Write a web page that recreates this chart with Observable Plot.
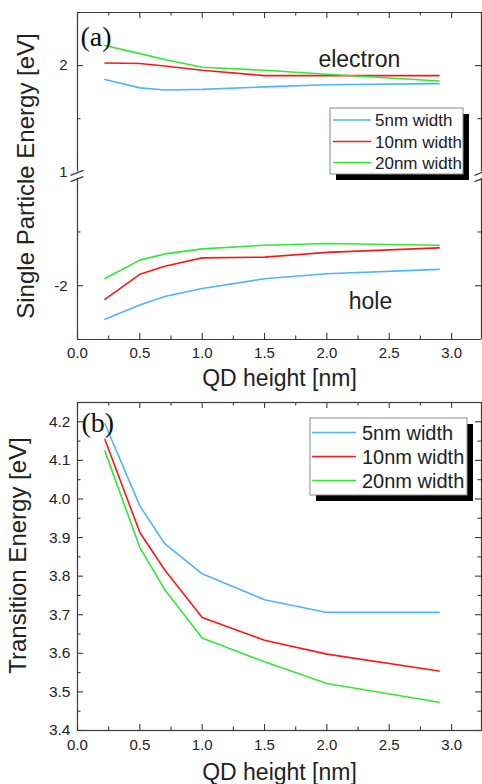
<!DOCTYPE html>
<html>
<head>
<meta charset="utf-8">
<script src="https://cdn.jsdelivr.net/npm/d3@7"></script>
<script src="https://cdn.jsdelivr.net/npm/@observablehq/plot@0.6"></script>
<style>
  html, body { margin: 0; padding: 0; background: #fff; }
  #fig { width: 482px; height: 784px; position: relative; overflow: hidden; background: #fff; }
  #fig svg { display: block; }
</style>
</head>
<body>
<div id="fig"></div>
<script>
// QD heights (nm) at which the energies were computed
const heights = [0.22, 0.5, 0.7, 1.0, 1.5, 2.0, 2.9];

// Series names and colours
const widths = ["5nm width", "10nm width", "20nm width"];
const colors = ["#4db5f8", "#f41a1a", "#36e636"];

// (a) single particle energies [eV]
const electron5  = [1.870, 1.790, 1.770, 1.776, 1.800, 1.820, 1.830];
const electron10 = [2.025, 2.020, 1.996, 1.956, 1.906, 1.906, 1.906];
const electron20 = [2.190, 2.113, 2.057, 1.984, 1.956, 1.918, 1.855];
const hole5  = [-2.311, -2.180, -2.100, -2.025, -1.935, -1.889, -1.848];
const hole10 = [-2.126, -1.894, -1.818, -1.741, -1.734, -1.690, -1.648];
const hole20 = [-1.932, -1.762, -1.704, -1.657, -1.623, -1.607, -1.623];

// (b) transition energies [eV]
const trans5  = [4.195, 3.982, 3.884, 3.806, 3.739, 3.706, 3.706];
const trans10 = [4.154, 3.913, 3.816, 3.693, 3.634, 3.598, 3.554];
const trans20 = [4.124, 3.874, 3.765, 3.640, 3.578, 3.522, 3.473];

// Axis ticks
const xTicks = [0, 0.5, 1.0, 1.5, 2.0, 2.5, 3.0];
const xMinor = [0.25, 0.75, 1.25, 1.75, 2.25, 2.75];
const yTicksA = [2, 1, -2];
const yMajorA = [2, -2];
const yMinorA = [1.5, -1.5];
const yTicksB = [3.4, 3.5, 3.6, 3.7, 3.8, 3.9, 4.0, 4.1, 4.2];
const yMinorB = [3.45, 3.55, 3.65, 3.75, 3.85, 3.95, 4.05, 4.15];

// Annotations
const bandLabels = [
  {text: "electron", x: 2.26, y: 1.99},
  {text: "hole", x: 2.35, y: -2.216}
];

// Long-format tables for the line marks
function series(values, w, kind) {
  return heights.map((h, i) => ({h, v: values[i], w, kind}));
}
const tableA = [
  ...series(electron5, widths[0], "e"), ...series(electron10, widths[1], "e"), ...series(electron20, widths[2], "e"),
  ...series(hole5, widths[0], "h"), ...series(hole10, widths[1], "h"), ...series(hole20, widths[2], "h")
];
const tableB = [
  ...series(trans5, widths[0], "t"), ...series(trans10, widths[1], "t"), ...series(trans20, widths[2], "t")
];

const INK = "#222";
const FRAME = "#3a3a3a";
const SANS = "'Liberation Sans', Arial, Helvetica, sans-serif";
const SERIF = "'Liberation Serif', 'Times New Roman', serif";
const NS = "http://www.w3.org/2000/svg";

function el(tag, attrs, text) {
  const n = document.createElementNS(NS, tag);
  for (const k in attrs) n.setAttribute(k, attrs[k]);
  if (text != null) n.textContent = text;
  return n;
}

// Inward ticks on all four sides of the frame
function frameTicks(yMajor, yMinor, plotW, plotH) {
  const s = {stroke: FRAME, strokeWidth: 1.1};
  const maj = 6, min = 3.5;
  return [
    Plot.tickX(xTicks, {x: d => d, insetTop: plotH - maj, ...s}),
    Plot.tickX(xTicks, {x: d => d, insetBottom: plotH - maj, ...s}),
    Plot.tickX(xMinor, {x: d => d, insetTop: plotH - min, ...s}),
    Plot.tickX(xMinor, {x: d => d, insetBottom: plotH - min, ...s}),
    Plot.tickY(yMajor, {y: d => d, insetRight: plotW - maj, ...s}),
    Plot.tickY(yMajor, {y: d => d, insetLeft: plotW - maj, ...s}),
    Plot.tickY(yMinor, {y: d => d, insetRight: plotW - min, ...s}),
    Plot.tickY(yMinor, {y: d => d, insetLeft: plotW - min, ...s})
  ];
}

// Boxed legend with a drop shadow (position relative to the SVG)
function legendBox(o) {
  return () => {
    const g = el("g", {"font-family": SANS, "font-size": o.fontSize, "text-anchor": "start"});
    g.appendChild(el("rect", {x: o.x + o.shadow, y: o.y + o.shadow, width: o.w, height: o.h, fill: "#000"}));
    g.appendChild(el("rect", {x: o.x, y: o.y, width: o.w, height: o.h, fill: "#fff", stroke: "#8a8a8a", "stroke-width": 1}));
    widths.forEach((w, i) => {
      const cy = o.y + o.rows[i];
      g.appendChild(el("line", {x1: o.x + o.line0, x2: o.x + o.line1, y1: cy, y2: cy, stroke: colors[i], "stroke-width": 1.6}));
      g.appendChild(el("text", {x: o.x + o.textX, y: cy, dy: "0.36em", fill: INK}, w));
    });
    return g;
  };
}

// Slanted break symbols where the energy axis skips the gap
function axisBreaks(index, scales, values, dims) {
  const g = el("g", {stroke: FRAME, "stroke-width": 1.3, fill: "none"});
  const ys = [scales.y(1) + 1.5, scales.y(-1) + 1.5];
  for (const x of [dims.marginLeft, dims.width - dims.marginRight]) {
    for (const y of ys) {
      g.appendChild(el("line", {x1: x - 6.5, y1: y + 2.5, x2: x + 6.5, y2: y - 2.5}));
    }
  }
  return g;
}

const W = 482;
const xScale = {domain: [0, 3.24]};
const color = {domain: widths, range: colors};

// ---------- Panel (a) ----------
const hA = 390, mTopA = 12, mBotA = 51, mL = 77, mR = 1;
const plotWA = W - mL - mR, plotHA = hA - mTopA - mBotA;
const figA = Plot.plot({
  width: W, height: hA,
  marginLeft: mL, marginRight: mR, marginTop: mTopA, marginBottom: mBotA,
  style: {fontFamily: SANS, fontSize: "15px", color: INK, background: "#fff", overflow: "visible"},
  x: xScale,
  // broken energy axis: electron band above, hole band below
  y: {type: "linear", domain: [-2.5, -1, 1, 2.5], range: [hA - mBotA, 177.7, 171.3, mTopA]},
  color,
  marks: [
    Plot.line(tableA, {x: "h", y: "v", z: d => d.w + d.kind, stroke: "w", strokeWidth: 1.6}),
    Plot.ruleY([2.5, -2.5], {stroke: FRAME, strokeWidth: 1.2}),
    Plot.ruleX([0, 3.24], {y1: 1, y2: 2.5, stroke: FRAME, strokeWidth: 1.2}),
    Plot.ruleX([0, 3.24], {y1: -2.5, y2: -1, stroke: FRAME, strokeWidth: 1.2}),
    ...frameTicks(yMajorA, yMinorA, plotWA, plotHA),
    axisBreaks,
    Plot.axisX({ticks: xTicks, tickSize: 0, tickPadding: 8, tickFormat: d3.format(".1f"), label: null, fontSize: 15, fill: INK}),
    Plot.axisY({ticks: yTicksA, tickSize: 0, tickPadding: 10, tickFormat: d => String(d), label: null, fontSize: 15, fill: INK}),
    Plot.text(bandLabels, {x: "x", y: "y", text: "text", lineAnchor: "bottom", fontSize: 23, fill: INK}),
    Plot.text(["(a)"], {frameAnchor: "top-left", dx: 3, dy: 33, lineAnchor: "bottom", textAnchor: "start", fontFamily: SERIF, fontSize: 28, fill: "#111"}),
    Plot.text(["QD height [nm]"], {frameAnchor: "bottom", dy: 46, lineAnchor: "bottom", fontSize: 23, fill: INK}),
    Plot.text(["Single Particle Energy [eV]"], {frameAnchor: "left", rotate: -90, dx: -44, textAnchor: "middle", lineAnchor: "bottom", fontSize: 24, fill: INK}),
    legendBox({x: 330, y: 108, w: 133, h: 66, shadow: 6, rows: [12, 33.5, 54.5], line0: 3, line1: 41, textX: 45, fontSize: 17})
  ]
});

// ---------- Panel (b) ----------
const hB = 394, mTopB = 12, mBotB = 54;
const plotWB = W - mL - mR, plotHB = hB - mTopB - mBotB;
const figB = Plot.plot({
  width: W, height: hB,
  marginLeft: mL, marginRight: mR, marginTop: mTopB, marginBottom: mBotB,
  style: {fontFamily: SANS, fontSize: "15px", color: INK, background: "#fff", overflow: "visible"},
  x: xScale,
  y: {domain: [3.4, 4.25]},
  color,
  marks: [
    Plot.line(tableB, {x: "h", y: "v", z: "w", stroke: "w", strokeWidth: 1.6}),
    Plot.frame({stroke: FRAME, strokeWidth: 1.2}),
    ...frameTicks(yTicksB, yMinorB, plotWB, plotHB),
    Plot.axisX({ticks: xTicks, tickSize: 0, tickPadding: 9, tickFormat: d3.format(".1f"), label: null, fontSize: 15, fill: INK}),
    Plot.axisY({ticks: yTicksB, tickSize: 0, tickPadding: 7, tickFormat: d3.format(".1f"), label: null, fontSize: 15.5, fill: INK}),
    Plot.text(["(b)"], {frameAnchor: "top-left", dx: 4, dy: 29, lineAnchor: "bottom", textAnchor: "start", fontFamily: SERIF, fontSize: 28, fill: "#111"}),
    Plot.text(["QD height [nm]"], {frameAnchor: "bottom", dy: 49, lineAnchor: "bottom", fontSize: 23, fill: INK}),
    Plot.text(["Transition Energy [eV]"], {frameAnchor: "left", rotate: -90, dx: -52, dy: -11, textAnchor: "middle", lineAnchor: "bottom", fontSize: 24, fill: INK}),
    legendBox({x: 310, y: 28, w: 157, h: 77, shadow: 6, rows: [14.5, 38.5, 62.5], line0: 2, line1: 46, textX: 52, fontSize: 20})
  ]
});

const fig = document.getElementById("fig");
fig.appendChild(figA);
fig.appendChild(figB);
</script>
</body>
</html>
